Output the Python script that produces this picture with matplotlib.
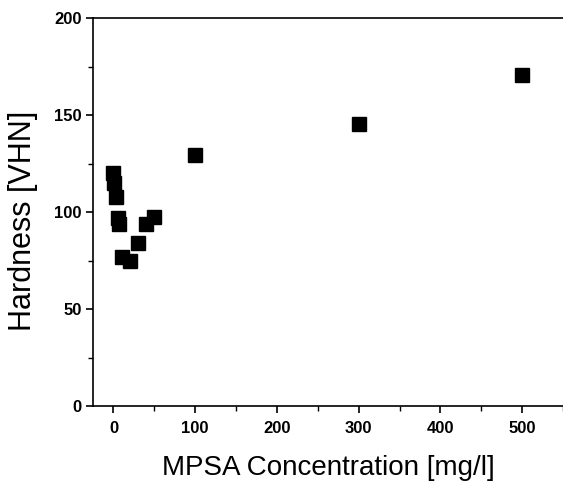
import matplotlib
matplotlib.use("Agg")
import matplotlib.pyplot as plt
from matplotlib.ticker import MultipleLocator

# MPSA concentration [mg/l] vs hardness [VHN]
conc = [0, 1, 3, 5, 7, 10, 20, 30, 40, 50, 100, 300, 500]
hardness = [120, 115, 108, 97, 94, 77, 75, 84, 94, 97.5, 129.5, 145.5, 170.5]

plt.rcParams['font.family'] = ['Liberation Sans', 'DejaVu Sans']

fig = plt.figure(figsize=(5.63, 4.90), dpi=100)
ax = fig.add_axes([0.1652, 0.1714, 0.8348, 0.7918])

ax.plot(conc, hardness, 's', color='black', markersize=9.5, clip_on=False)

ax.set_xlim(-25, 550)
ax.set_ylim(0, 200)
ax.xaxis.set_major_locator(MultipleLocator(100))
ax.xaxis.set_minor_locator(MultipleLocator(50))
ax.yaxis.set_major_locator(MultipleLocator(50))
ax.yaxis.set_minor_locator(MultipleLocator(25))

ax.tick_params(which='major', direction='out', length=5, width=1.2,
               labelsize=12, top=False, right=False)
ax.tick_params(which='minor', direction='out', length=3.5, width=1.0,
               top=False, right=False)
ax.tick_params(axis='x', which='major', pad=6)
ax.tick_params(axis='y', which='major', pad=3)
for lbl in ax.get_xticklabels() + ax.get_yticklabels():
    lbl.set_fontweight('bold')

for side in ['left', 'bottom', 'top']:
    ax.spines[side].set_linewidth(1.2)
ax.spines['right'].set_visible(False)

ax.set_xlabel('MPSA Concentration [mg/l]', fontsize=20)
ax.set_ylabel('Hardness [VHN]', fontsize=22)
ax.xaxis.set_label_coords(0.5, -0.16)
ax.yaxis.set_label_coords(-0.149, 0.477)
ax.xaxis.label.set_va('center')
ax.yaxis.label.set_va('center')

fig.savefig('out.png', dpi=100)
